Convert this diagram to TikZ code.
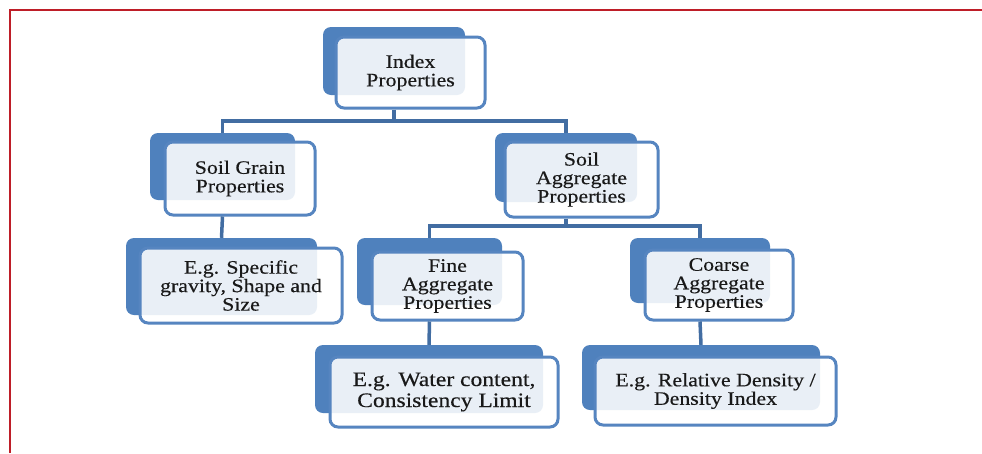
\documentclass[tikz,border=0pt]{standalone}
\usepackage{fontspec}
\setmainfont{Liberation Serif}[FakeStretch=1.15,FakeBold=0.35]
\usetikzlibrary{fit}
\definecolor{backblue}{RGB}{79,129,189}
\definecolor{edgeblue}{RGB}{86,133,192}
\definecolor{connblue}{RGB}{66,109,162}
\definecolor{framered}{RGB}{190,30,40}
\begin{document}
\begin{tikzpicture}[x=1pt,y=-1pt,
  backbox/.style={fill=backblue, draw=none, rounded corners=8pt, inner sep=0pt},
  frontbox/.style={fill=white, fill opacity=0.88, draw=edgeblue, draw opacity=1,
    line width=3pt, rounded corners=8pt, inner sep=0pt},
  txt/.style={align=center, inner sep=0pt, font=\fontsize{19}{18.5}\selectfont, text=black!90},
  conn/.style={draw=connblue, line width=3.5pt}]
\useasboundingbox (0,0) rectangle (982,453);
\fill[white] (0,0) rectangle (982,453);
% frame
\draw[framered, line width=1.5pt] (10,453) -- (10,10) -- (982,10);
% back boxes
\node[backbox, fit={(323,27) (465,95)}] (indexback) {};
\node[backbox, fit={(150,133) (295,200)}] (grainback) {};
\node[backbox, fit={(495,133) (637,202)}] (aggback) {};
\node[backbox, fit={(126,238) (317,315)}] (specback) {};
\node[backbox, fit={(357,238) (502,305)}] (fineback) {};
\node[backbox, fit={(630,238) (770,303)}] (coarseback) {};
\node[backbox, fit={(315,345) (543,413)}] (waterback) {};
\node[backbox, fit={(582,345) (820,410)}] (relback) {};
% front boxes
\node[frontbox, fit={(336,37) (485,108)}] (index) {};
\node[frontbox, fit={(165,142) (315,215)}] (grain) {};
\node[frontbox, fit={(505,142) (658,217)}] (agg) {};
\node[frontbox, fit={(140,248) (342,323)}] (spec) {};
\node[frontbox, fit={(372,252) (523,320)}] (fine) {};
\node[frontbox, fit={(645,250) (793,320)}] (coarse) {};
\node[frontbox, fit={(330,357) (558,427)}] (water) {};
\node[frontbox, fit={(595,357) (836,425)}] (rel) {};
% connectors
\draw[conn] (indexback.south |- index.south) -- (indexback.south |- 0,121) coordinate (j1);
\draw[conn] (grainback.north) |- (j1) -| (aggback.north);
\draw[conn] (grainback.south |- grain.south) -- (specback.north);
\draw[conn] (aggback.south |- agg.south) -- (aggback.south |- 0,226) coordinate (j2);
\draw[conn] (fineback.north) |- (j2) -| (coarseback.north);
\draw[conn] (fineback.south |- fine.south) -- (waterback.north);
\draw[conn] (coarseback.south |- coarse.south) -- (relback.north);
% texts
\node[txt] (indext) at (index.center) {Index\\Properties};
\node[txt] (graint) at (grain.center) {Soil Grain\\Properties};
\node[txt] (aggt) at (agg.center) {Soil\\Aggregate\\Properties};
\node[txt] (spect) at (spec.center) {E.g. Specific\\gravity, Shape and\\Size};
\node[txt] (finet) at (fine.center) {Fine\\Aggregate\\Properties};
\node[txt] (coarset) at (coarse.center) {Coarse\\Aggregate\\Properties};
\node[txt, font=\fontsize{20.5}{21}\selectfont] (watert) at (water.center) {E.g. Water content,\\Consistency Limit};
\node[txt] (relt) at (rel.center) {E.g. Relative Density /\\Density Index};
\end{tikzpicture}
\end{document}
